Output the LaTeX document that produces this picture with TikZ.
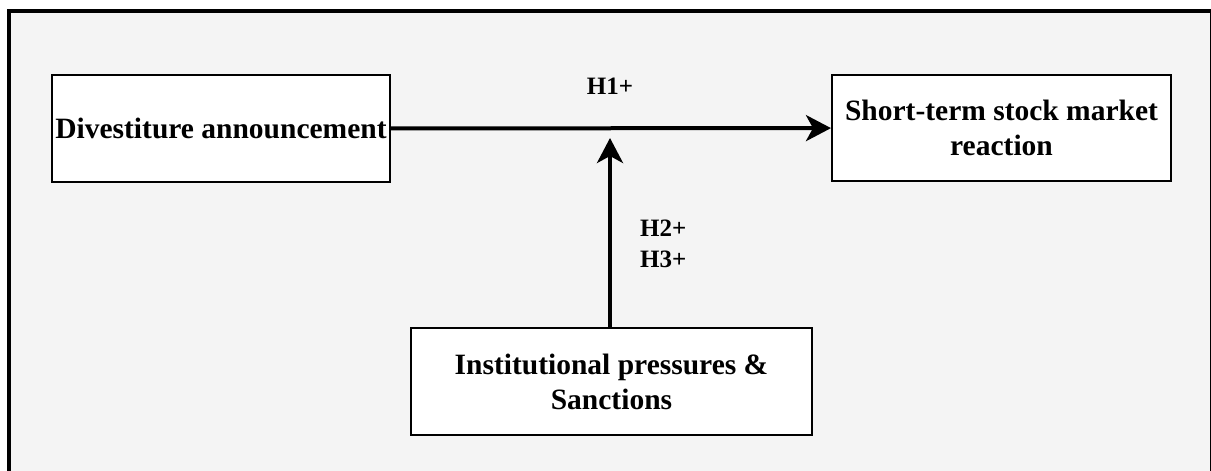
\documentclass[tikz,border=0pt]{standalone}
\usepackage{fontspec}
\setmainfont{Liberation Serif}
\usetikzlibrary{arrows.meta}
\definecolor{bgc}{HTML}{F4F4F4}
\begin{document}
\begin{tikzpicture}[x=1pt,y=-1pt,
  boxnode/.style={draw=black, line width=2pt, fill=white, inner sep=0pt, align=center,
    font=\fontsize{29.5}{35}\selectfont\bfseries},
  lbl/.style={font=\fontsize{25}{30}\selectfont\bfseries, inner sep=0pt},
  arr/.style={line width=4pt, -{Stealth[length=25pt,width=26pt,inset=7pt]}}]
\useasboundingbox (0,0) rectangle (1211,471);
\begin{scope}
  \clip (0,0) rectangle (1211,471);
  \fill[white] (0,0) rectangle (1211,471);
  \draw[line width=4pt, fill=bgc] (9,11) rectangle (1212,495);
\end{scope}
\node[boxnode, minimum width=338pt, minimum height=107pt] (b1) at (221,128.5) {Divestiture announcement};
\node[boxnode, minimum width=339pt, minimum height=106pt] (b2) at (1001.5,128) {Short-term stock market\\reaction};
\node[boxnode, minimum width=401pt, minimum height=107pt] (b3) at (611.5,381.5) {Institutional pressures \&\\Sanctions};
\coordinate (tip) at (610,138);
\draw[arr] (b1) -- (b2);
\draw[arr] (b3.north -| tip) -- (tip);
\node[lbl, anchor=base] (h1) at (610,94) {H1+};
\node[lbl, anchor=base west] (h2) at (640,236) {H2+};
\node[lbl, anchor=base west] (h3) at (640,267) {H3+};
\end{tikzpicture}
\end{document}
